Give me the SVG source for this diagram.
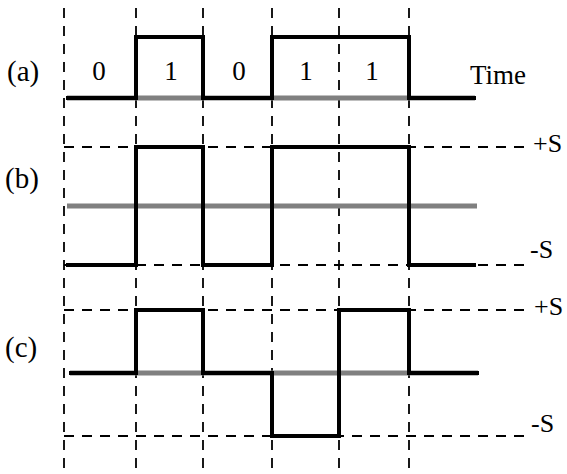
<svg xmlns="http://www.w3.org/2000/svg" width="567" height="474" viewBox="0 0 567 474" font-family="'Liberation Serif', 'Times New Roman', Times, serif">
<style>
.grid{stroke:#000;stroke-width:1.8;stroke-dasharray:10 8;fill:none}
.base{stroke:#808080;stroke-width:5;fill:none}
.wave{stroke:#000;stroke-width:4;fill:none;stroke-linejoin:miter;stroke-linecap:square}
.lbl{font-size:29px}
.bit{font-size:27px;text-anchor:middle}
.lev{font-size:26px}
</style>
<rect width="567" height="474" fill="#fff"/>
<g id="grid">
<line class="grid" x1="64" y1="8" x2="64" y2="474"/>
<line class="grid" x1="136" y1="8" x2="136" y2="474"/>
<line class="grid" x1="203" y1="8" x2="203" y2="474"/>
<line class="grid" x1="272" y1="8" x2="272" y2="474"/>
<line class="grid" x1="339" y1="8" x2="339" y2="474"/>
<line class="grid" x1="409" y1="8" x2="409" y2="474"/>
<line class="grid" x1="64" y1="147" x2="531" y2="147"/>
<line class="grid" x1="64" y1="265" x2="530" y2="265"/>
<line class="grid" x1="64" y1="310" x2="531" y2="310"/>
<line class="grid" x1="64" y1="436" x2="530" y2="436"/>
</g>
<g id="wave-a">
<line class="base" x1="67" y1="98" x2="475" y2="98"/>
<polyline class="wave" points="68,98 136,98 136,37 203,37 203,98 272,98 272,37 409,37 409,98 474,98"/>
<text class="lbl" x="7" y="81" font-family="'Liberation Serif', serif">(a)</text>
<text class="bit" x="99" y="80" font-family="'Liberation Serif', serif">0</text>
<text class="bit" x="171" y="80" font-family="'Liberation Serif', serif">1</text>
<text class="bit" x="239" y="80" font-family="'Liberation Serif', serif">0</text>
<text class="bit" x="306" y="80" font-family="'Liberation Serif', serif">1</text>
<text class="bit" x="372" y="80" font-family="'Liberation Serif', serif">1</text>
<text x="470" y="84" font-size="27" font-family="'Liberation Serif', serif">Time</text>
</g>
<g id="wave-b">
<line class="base" x1="67" y1="206" x2="477" y2="206"/>
<polyline class="wave" points="68,265 136,265 136,147 203,147 203,265 272,265 272,147 409,147 409,265 474,265"/>
<text class="lbl" x="5" y="188" font-family="'Liberation Serif', serif">(b)</text>
<text class="lev" x="533" y="152" font-family="'Liberation Serif', serif">+S</text>
<text class="lev" x="530" y="258" font-family="'Liberation Serif', serif">-S</text>
</g>
<g id="wave-c">
<line class="base" x1="70" y1="373" x2="478" y2="373"/>
<polyline class="wave" points="71,373 136,373 136,310 203,310 203,373 272,373 272,436 339,436 339,310 409,310 409,373 477,373"/>
<text class="lbl" x="5" y="357" font-family="'Liberation Serif', serif">(c)</text>
<text class="lev" x="534" y="315" font-family="'Liberation Serif', serif">+S</text>
<text class="lev" x="531" y="432" font-family="'Liberation Serif', serif">-S</text>
</g>
</svg>
